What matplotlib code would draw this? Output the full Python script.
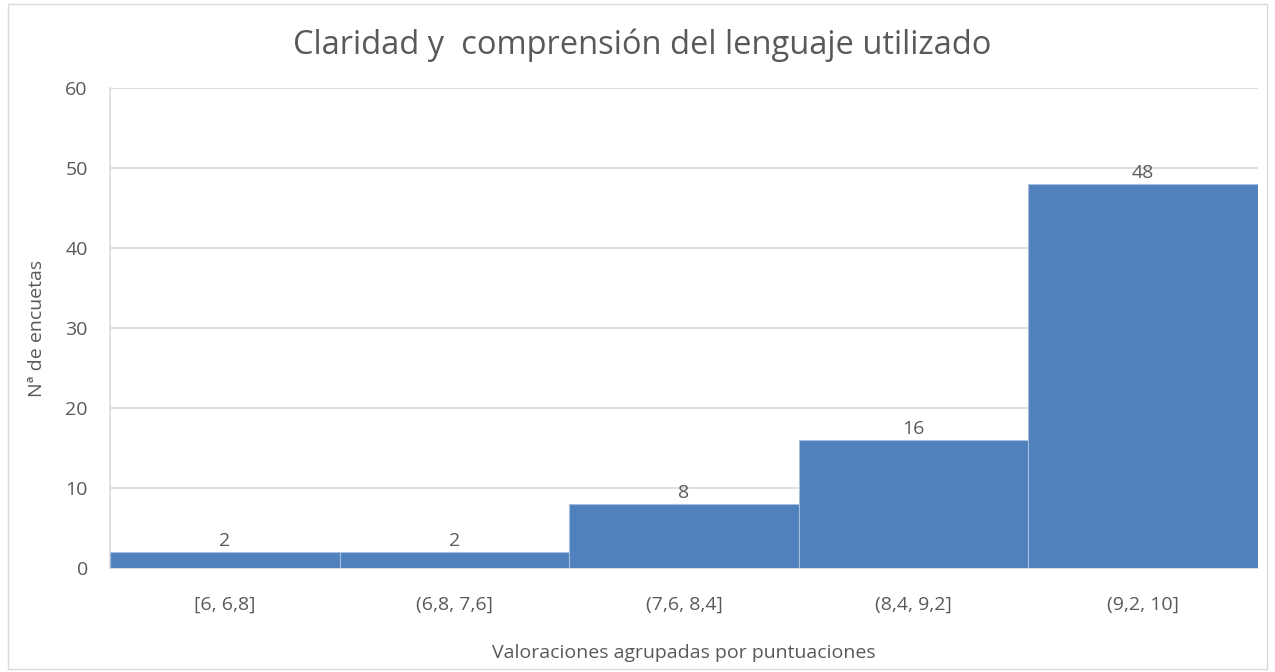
import matplotlib
matplotlib.use("Agg")
import matplotlib.pyplot as plt
from matplotlib.patches import Rectangle

# data
categories = ["[6, 6,8]", "(6,8, 7,6]", "(7,6, 8,4]", "(8,4, 9,2]", "(9,2, 10]"]
counts = [2, 2, 8, 16, 48]
yticks = [0, 10, 20, 30, 40, 50, 60]

plt.rcParams['font.family'] = ['Open Sans', 'DejaVu Sans']
txt = '#595959'

fig = plt.figure(figsize=(12.75, 6.72), dpi=100)
ax = fig.add_axes([0.0863, 0.1548, 0.9004, 0.7142])

x = list(range(len(categories)))
bars = ax.bar(x, counts, width=1.0, color='#4F81BD', edgecolor='#A7BEDD', linewidth=0.8, zorder=3)
for xi, v in zip(x, counts):
    ax.text(xi, v + 0.3, str(v), ha='center', va='bottom', fontsize=14, color=txt, zorder=4)

ax.set_xlim(-0.5, len(categories) - 0.5)
ax.set_ylim(0, 60)
ax.set_yticks(yticks)
ax.set_xticks(x)
ax.set_xticklabels(categories)
ax.grid(axis='y', color='#D9D9D9', linewidth=1.2, zorder=0)
for s in ['top', 'right']:
    ax.spines[s].set_visible(False)
ax.spines['left'].set_color('#D9D9D9')
ax.spines['bottom'].set_color('#D9D9D9')
ax.spines['left'].set_linewidth(1.2)
ax.spines['bottom'].set_linewidth(1.2)
ax.tick_params(axis='both', length=0, labelsize=14, colors=txt)
ax.tick_params(axis='x', pad=20)
ax.tick_params(axis='y', pad=16)

ax.set_xlabel('Valoraciones agrupadas por puntuaciones', fontsize=14, color=txt, labelpad=22)
ax.set_ylabel('Nª de encuetas', fontsize=14, color=txt, labelpad=14)
fig.text(0.504, 0.932, 'Claridad y  comprensión del lenguaje utilizado', ha='center', va='center',
         fontsize=23.5, color=txt)

fig.patches.append(Rectangle((0.006, 0.004), 0.988, 0.99, transform=fig.transFigure,
                             fill=False, edgecolor='#D9D9D9', linewidth=1))

fig.savefig('out.png', dpi=100)
